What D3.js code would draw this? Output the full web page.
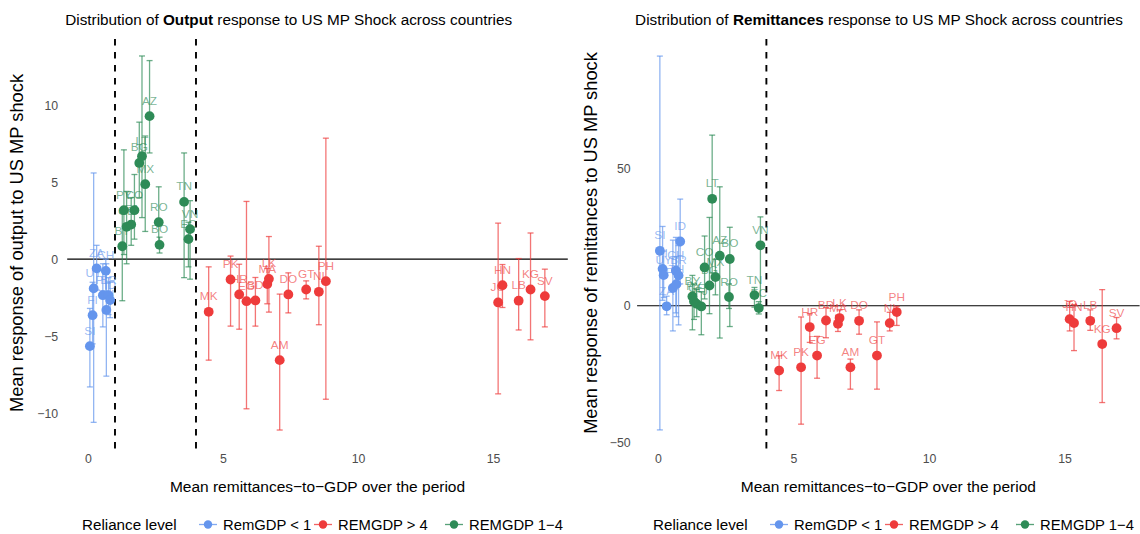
<!DOCTYPE html>
<html>
<head>
<meta charset="utf-8">
<script src="https://cdn.jsdelivr.net/npm/d3@7"></script>
<style>
  body { margin: 0; background: #fff; }
  svg text { font-family: "Liberation Sans", Arial, sans-serif; }
</style>
</head>
<body>
<script>
// country codes and mean remittances-to-GDP (x)
var countries = ["SI","FI","UY","ZA","PL","CH","TH","BR","ID",
                 "BY","PY","GE","FJ","CO","BG","LT","MX","AZ","RO","BO","TN","EC","VN",
                 "MK","PK","HR","EG","BD","MA","LK","AM","DO","GT","NI","PH","JO","HN","LB","KG","SV"];
var remGDP = [0.07,0.17,0.21,0.32,0.55,0.66,0.68,0.76,0.82,
              1.27,1.33,1.43,1.60,1.72,1.90,2.00,2.12,2.28,2.62,2.65,3.56,3.72,3.78,
              4.47,5.28,5.60,5.87,6.20,6.64,6.70,7.10,7.42,8.08,8.55,8.81,15.19,15.35,15.95,16.39,16.92];
var reliance = ["lo","lo","lo","lo","lo","lo","lo","lo","lo",
                "mid","mid","mid","mid","mid","mid","mid","mid","mid","mid","mid","mid","mid","mid",
                "hi","hi","hi","hi","hi","hi","hi","hi","hi","hi","hi","hi","hi","hi","hi","hi","hi"];

// output response: mean, lower, upper
var outMean = [-5.65,-3.64,-1.90,-0.60,-2.34,-0.76,-3.30,-2.34,-2.66,
               0.84,3.18,2.10,2.25,3.18,6.25,6.69,4.87,9.29,2.40,0.93,3.72,1.30,1.95,
               -3.42,-1.32,-2.29,-2.73,-2.68,-1.62,-1.28,-6.56,-2.29,-1.97,-2.12,-1.43,-2.81,-1.69,-2.70,-1.97,-2.40];
var outLo = [-8.3,-5.5,-10.6,-2.0,-4.4,-2.5,-7.6,-3.6,-3.8,
             -2.7,0.3,-0.3,0.9,1.3,4.0,2.7,1.8,6.9,1.1,0.4,-1.2,-0.5,-1.3,
             -6.56,-4.35,-4.55,-9.72,-4.35,-2.9,-3.44,-11.1,-3.49,-2.58,-4.26,-9.1,-8.75,-3.14,-4.6,-5.24,-4.4];
var outHi = [-3.2,-1.5,5.6,0.9,-0.3,0.0,-0.3,-1.2,-1.5,
             3.0,7.1,4.4,4.0,5.5,8.9,13.2,8.0,12.9,4.7,1.43,6.9,2.4,3.8,
             -0.5,0.2,-0.33,3.75,-1.19,-0.6,1.47,-2.27,-0.89,-1.41,0.84,7.86,2.34,-0.35,0.04,1.7,-0.65];

// remittances response: mean, lower, upper
var remMean = [20.1,13.5,11.2,-0.2,6.5,12.8,7.9,11.1,23.5,
               3.4,1.6,0.7,-0.25,14.0,7.4,39.1,10.5,18.3,3.2,17.1,3.9,-0.85,22.1,
               -23.7,-22.5,-7.8,-18.2,-5.4,-6.6,-4.5,-22.5,-5.5,-18.2,-6.35,-2.3,-4.9,-6.3,-5.5,-14.0,-8.2];
var remLo = [-45.4,2,3,-3.3,-9.2,-2.6,-4,-7,8,
             -8.8,-5,-4,-10.6,2.5,-2.9,12,4,-11.8,-1,-7.6,-0.5,-3,-0.3,
             -31,-43.3,-13.4,-26.5,-11.7,-9.4,-7,-30.5,-10.4,-30.5,-9.2,-7.2,-9.2,-16.4,-9,-35.4,-12.1];
var remHi = [91.3,29,20,3.5,24,25,18,22,39,
             11.1,8,6,5,25.5,32.3,62.4,17,43.5,8,28.7,6.7,1.5,32.5,
             -18.3,-4.1,-2.9,-11.2,-0.7,-3.5,-1.5,-19.5,-1.5,-5.9,-2.4,-0.2,1.6,0.4,-1.5,5.9,-4.3];

var groupKeys = ["lo","hi","mid"];
var groupLabels = ["RemGDP < 1","REMGDP > 4","REMGDP 1\u22124"];
var groupColors = ["#6495ED","#EE3B3B","#2E8B57"];

var color = d3.scaleOrdinal().domain(groupKeys).range(groupColors);

var width = 1140, height = 534;
var svg = d3.select("body").append("svg")
    .attr("width", width)
    .attr("height", height);

var minus = function(d){ return d3.format("d")(d).replace("-", "\u2212"); };

function drawPanel(p){
    var x = d3.scaleLinear().domain([-0.77, 17.77]).range([p.left, p.right]);
    var y = d3.scaleLinear().domain(p.ydom).range([448.5, 37.5]);
    var g = svg.append("g");

    //dashed reliance thresholds
    g.selectAll(".vline").data(p.vlines).enter().append("line")
        .attr("x1", function(d){ return x(d); }).attr("x2", function(d){ return x(d); })
        .attr("y1", y.range()[0]).attr("y2", y.range()[1])
        .attr("stroke", "#000").attr("stroke-width", 1.9)
        .attr("stroke-dasharray", "6.5,6.5");

    //zero line
    g.append("line")
        .attr("x1", p.left).attr("x2", p.right)
        .attr("y1", y(0)).attr("y2", y(0))
        .attr("stroke", "#000").attr("stroke-width", 1.1);

    var idx = d3.range(countries.length);

    //error bars
    var bars = g.selectAll(".bar").data(idx).enter().append("g")
        .attr("stroke", function(i){ return color(reliance[i]); })
        .attr("stroke-opacity", 0.7)
        .attr("stroke-width", 1.3);
    bars.append("line")
        .attr("x1", function(i){ return x(remGDP[i]); }).attr("x2", function(i){ return x(remGDP[i]); })
        .attr("y1", function(i){ return y(p.lo[i]); }).attr("y2", function(i){ return y(p.hi[i]); });
    bars.append("line")
        .attr("x1", function(i){ return x(remGDP[i]) - 3; }).attr("x2", function(i){ return x(remGDP[i]) + 3; })
        .attr("y1", function(i){ return y(p.lo[i]); }).attr("y2", function(i){ return y(p.lo[i]); });
    bars.append("line")
        .attr("x1", function(i){ return x(remGDP[i]) - 3; }).attr("x2", function(i){ return x(remGDP[i]) + 3; })
        .attr("y1", function(i){ return y(p.hi[i]); }).attr("y2", function(i){ return y(p.hi[i]); });

    //points
    g.selectAll(".pt").data(idx).enter().append("circle")
        .attr("cx", function(i){ return x(remGDP[i]); })
        .attr("cy", function(i){ return y(p.mean[i]); })
        .attr("r", 4.9)
        .attr("fill", function(i){ return color(reliance[i]); });

    //country labels
    g.selectAll(".lab").data(idx).enter().append("text")
        .attr("x", function(i){ return x(remGDP[i]); })
        .attr("y", function(i){ return y(p.mean[i]) - 11.5; })
        .attr("text-anchor", "middle")
        .attr("font-size", 11.8)
        .attr("fill", function(i){ return color(reliance[i]); })
        .attr("fill-opacity", 0.65)
        .text(function(i){ return countries[i]; });

    //axes
    var ax = g.append("g").attr("transform", "translate(0,448.5)")
        .call(d3.axisBottom(x).tickValues([0,5,10,15]).tickSize(0).tickPadding(5.5).tickFormat(minus));
    var ay = g.append("g").attr("transform", "translate(" + p.left + ",0)")
        .call(d3.axisLeft(y).tickValues(p.yticks).tickSize(0).tickPadding(p.ypad).tickFormat(minus));
    [ax, ay].forEach(function(a){
        a.select(".domain").remove();
        a.selectAll("text").attr("font-size", 12.3).attr("fill", "#4D4D4D")
            .attr("font-family", "Liberation Sans, Arial, sans-serif");
    });

    var cx = (p.left + p.right) / 2;
    //title, left-aligned to the panel
    var t = g.append("text").attr("x", p.left - 2).attr("y", 25)
        .attr("text-anchor", "start").attr("font-size", 15.3);
    t.append("tspan").text("Distribution of ");
    t.append("tspan").attr("font-weight", "bold").text(p.bold);
    t.append("tspan").text(" response to US MP Shock across countries");

    //axis titles
    g.append("text").attr("x", cx).attr("y", 491.5)
        .attr("text-anchor", "middle").attr("font-size", 15.5)
        .text("Mean remittances\u2212to\u2212GDP over the period");
    g.append("text")
        .attr("transform", "translate(" + p.ytx + "," + ((37.5 + 448.5) / 2) + ") rotate(-90)")
        .attr("text-anchor", "middle").attr("font-size", 18.3)
        .text(p.ytitle);

    //legend
    var lg = g.append("g").attr("transform", "translate(" + p.legx + ",529.5)");
    lg.append("text").attr("x", 0).attr("y", 0).attr("font-size", 15.2).text("Reliance level");
    var keyPos = [126, 241, 372];
    groupKeys.forEach(function(k, j){
        var pos = keyPos[j];
        lg.append("line").attr("x1", pos - 9).attr("x2", pos + 9)
            .attr("y1", -5).attr("y2", -5)
            .attr("stroke", groupColors[j]).attr("stroke-width", 1.3).attr("stroke-opacity", 0.8);
        lg.append("circle").attr("cx", pos).attr("cy", -5).attr("r", 4.2)
            .attr("fill", groupColors[j]);
        lg.append("text").attr("x", pos + 15).attr("y", 0)
            .attr("font-size", 14.8).text(groupLabels[j]);
    });
}

drawPanel({
    left: 67.2, right: 567.8,
    ydom: [-12.3, 14.4], yticks: [-10,-5,0,5,10], ypad: 9,
    mean: outMean, lo: outLo, hi: outHi,
    vlines: [1, 4],
    bold: "Output",
    ytitle: "Mean response of output to US MP shock",
    ytx: 23, legx: 82
});

drawPanel({
    left: 637.1, right: 1139.6,
    ydom: [-52.2, 98.1], yticks: [-50,0,50], ypad: 6.5,
    mean: remMean, lo: remLo, hi: remHi,
    vlines: [4],
    bold: "Remittances",
    ytitle: "Mean response of remittances to US MP shock",
    ytx: 597, legx: 653
});
</script>
</body>
</html>
